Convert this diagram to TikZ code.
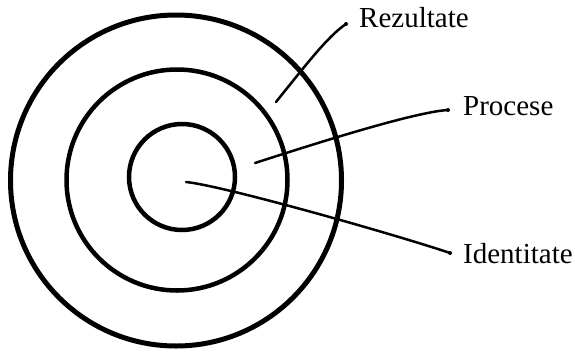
\documentclass[tikz,border=0pt]{standalone}
\usepackage{fontspec}
\setmainfont{Liberation Serif}
\begin{document}
\begin{tikzpicture}[x=1pt,y=-1pt,
  ring/.style={draw=black,line width=4.5pt},
  leader/.style={draw=black,line width=2.5pt,line cap=round},
  lbl/.style={anchor=base west,inner sep=0pt,font=\fontsize{29}{31}\selectfont}]
\useasboundingbox (0,0) rectangle (575,351);
\draw[ring,line width=5pt] (176,180.5) circle[radius=165.5];
\draw[ring] (177,180) circle[radius=110.5];
\draw[ring] (182,177) circle[radius=53];
\node[lbl] (rez) at (359,27) {Rezultate};
\node[lbl] (pro) at (463,115) {Procese};
\node[lbl] (ide) at (463,263) {Identitate};
\coordinate (r1) at (276,102);
\coordinate (r2) at (346,24);
\coordinate (p1) at (255,163);
\coordinate (p2) at (448,110);
\coordinate (i1) at (186,182);
\coordinate (i2) at (450,253);
\draw[leader] (r1) .. controls (305,66) and (328,36) .. (r2);
\draw[leader] (p1) .. controls (320,142) and (415,112) .. (p2);
\draw[leader] (i1) .. controls (225,186) and (400,236) .. (i2);
\fill (r2) circle[radius=2];
\fill (p2) circle[radius=2];
\fill (i2) circle[radius=2];
\end{tikzpicture}
\end{document}
